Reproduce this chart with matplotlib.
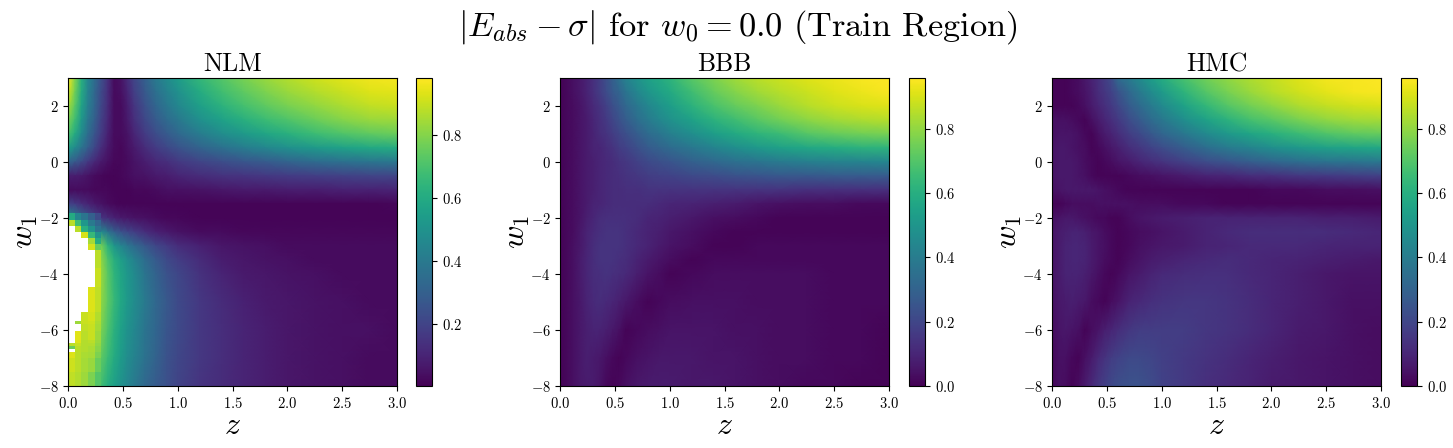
import matplotlib

matplotlib.use("Agg")
import matplotlib.pyplot as plt
import numpy as np
from matplotlib.colors import Normalize

plt.rcParams["font.family"] = ["cmr10", "DejaVu Serif"]
plt.rcParams["mathtext.fontset"] = "cm"
plt.rcParams["axes.formatter.use_mathtext"] = True
plt.rcParams["axes.unicode_minus"] = True

nan = np.nan

z_vals = [0, .06, .12, .18, .24, .3, .36, .42, .48, .54, .6, .7, .8, .9, 1, 1.2, 1.4, 1.6, 1.8, 2, 2.25, 2.5, 2.75, 3]
w_vals = [3, 2.5, 2, 1.5, 1, .5, 0, -.5, -1, -1.5, -2, -2.5, -3, -3.5, -4, -5, -6, -7, -8]

nlm_vals = [
    [.97, .80, .62, .45, .35, .24, .14, .03, .05, .12, .20, .30, .40, .47, .54, .65, .72, .78, .83, .87, .91, .94, .96, .97],
    [.92, .77, .60, .44, .33, .22, .13, .03, .04, .10, .18, .27, .36, .43, .49, .60, .68, .74, .79, .83, .87, .90, .93, .94],
    [.85, .73, .57, .42, .32, .21, .12, .03, .03, .08, .15, .24, .32, .39, .45, .55, .63, .69, .74, .78, .82, .86, .89, .90],
    [.78, .68, .53, .39, .30, .19, .11, .03, .03, .07, .13, .21, .28, .34, .39, .49, .56, .62, .67, .71, .76, .80, .83, .84],
    [.70, .60, .47, .35, .26, .17, .09, .03, .03, .05, .10, .17, .23, .28, .33, .41, .48, .53, .58, .62, .67, .71, .74, .76],
    [.55, .47, .38, .29, .21, .13, .07, .03, .02, .04, .07, .12, .17, .21, .25, .31, .36, .41, .45, .49, .53, .56, .59, .60],
    [.32, .27, .22, .16, .11, .07, .04, .02, .02, .03, .05, .08, .11, .13, .16, .20, .23, .26, .28, .31, .34, .36, .38, .39],
    [.08, .08, .07, .05, .03, .02, .01, .01, .02, .03, .04, .05, .07, .08, .10, .12, .14, .15, .16, .17, .18, .19, .20, .20],
    [.03, .03, .03, .03, .02, .02, .02, .01, .01, .01, .02, .02, .03, .04, .04, .05, .06, .07, .07, .08, .08, .09, .09, .10],
    [.20, .17, .13, .10, .07, .05, .03, .02, .01, .01, .01, .01, .01, .01, .01, .01, .01, .01, .01, .01, .01, .01, .01, .02],
    [.50, .42, .33, .26, .20, .15, .12, .09, .07, .06, .05, .04, .03, .02, .02, .01, .01, .01, .01, .01, .01, .01, .01, .01],
    [nan, nan, .90, .75, .60, .47, .38, .30, .25, .21, .18, .13, .09, .07, .05, .03, .03, .02, .02, .02, .02, .02, .02, .02],
    [nan, nan, nan, nan, .92, .78, .64, .52, .45, .39, .34, .27, .21, .17, .13, .09, .06, .05, .04, .03, .03, .03, .03, .03],
    [nan, nan, nan, nan, .93, .82, .71, .62, .55, .49, .44, .35, .28, .22, .18, .12, .08, .06, .05, .04, .03, .03, .03, .03],
    [nan, nan, nan, nan, .93, .83, .73, .64, .58, .52, .47, .38, .31, .25, .21, .14, .10, .07, .06, .05, .04, .03, .03, .03],
    [nan, nan, nan, .93, .91, .82, .74, .66, .59, .53, .48, .40, .33, .27, .22, .16, .12, .09, .07, .06, .05, .04, .03, .03],
    [nan, nan, .92, .90, .88, .79, .71, .63, .56, .50, .46, .38, .32, .26, .22, .16, .13, .10, .08, .06, .05, .04, .04, .03],
    [.92, .91, .90, .86, .80, .74, .67, .60, .54, .48, .44, .37, .31, .25, .21, .16, .13, .10, .08, .06, .05, .04, .03, .03],
    [.88, .86, .83, .78, .74, .68, .61, .55, .50, .45, .40, .33, .28, .24, .20, .15, .12, .10, .08, .06, .05, .04, .03, .03],
]

bbb_vals = [
    [.01, .02, .04, .06, .09, .13, .17, .23, .29, .36, .42, .49, .55, .58, .62, .71, .77, .82, .86, .88, .91, .93, .95, .96],
    [.01, .02, .04, .06, .09, .13, .17, .22, .27, .31, .37, .44, .50, .54, .58, .66, .73, .78, .82, .85, .88, .91, .93, .95],
    [.01, .02, .03, .05, .08, .11, .14, .18, .23, .27, .32, .38, .44, .49, .53, .61, .68, .73, .77, .81, .85, .88, .90, .91],
    [.01, .02, .03, .05, .07, .10, .13, .16, .20, .24, .28, .34, .39, .44, .48, .55, .61, .66, .71, .75, .79, .82, .84, .85],
    [.01, .02, .03, .05, .07, .09, .12, .14, .17, .20, .23, .28, .33, .37, .41, .47, .53, .58, .62, .65, .70, .73, .75, .76],
    [.01, .02, .03, .05, .07, .09, .10, .12, .14, .17, .19, .23, .27, .30, .33, .38, .43, .47, .51, .54, .57, .59, .61, .62],
    [.01, .02, .03, .05, .07, .08, .10, .11, .12, .14, .15, .18, .21, .23, .25, .29, .32, .35, .37, .39, .41, .42, .43, .44],
    [.01, .02, .03, .05, .07, .08, .10, .11, .12, .13, .14, .15, .17, .18, .19, .21, .22, .24, .25, .26, .26, .27, .27, .27],
    [.01, .02, .03, .05, .07, .08, .10, .11, .12, .12, .13, .13, .14, .14, .14, .14, .14, .14, .14, .14, .13, .13, .13, .13],
    [.01, .02, .03, .05, .07, .09, .10, .11, .12, .12, .12, .12, .12, .11, .10, .09, .08, .07, .05, .04, .03, .03, .02, .02],
    [.01, .02, .03, .05, .08, .10, .12, .13, .13, .13, .13, .12, .10, .09, .08, .06, .04, .03, .02, .01, .01, .01, .01, .01],
    [.01, .02, .03, .06, .09, .11, .13, .14, .14, .14, .13, .11, .09, .08, .06, .04, .02, .01, .01, .01, .01, .01, .01, .01],
    [.01, .02, .04, .06, .09, .12, .14, .14, .14, .14, .13, .11, .09, .07, .05, .03, .01, .01, .02, .02, .02, .02, .02, .02],
    [.01, .02, .04, .07, .10, .12, .14, .14, .14, .13, .12, .09, .07, .05, .03, .01, .02, .02, .02, .02, .02, .02, .02, .02],
    [.01, .02, .04, .07, .10, .12, .13, .14, .13, .12, .11, .08, .05, .03, .01, .02, .03, .03, .03, .03, .03, .02, .02, .02],
    [.01, .02, .04, .06, .09, .11, .12, .11, .10, .08, .06, .03, .01, .02, .03, .04, .04, .04, .03, .03, .03, .02, .02, .02],
    [.01, .02, .04, .06, .08, .09, .09, .08, .06, .04, .01, .02, .03, .04, .05, .05, .05, .04, .04, .03, .03, .02, .02, .01],
    [.01, .02, .04, .06, .08, .07, .06, .04, .02, .01, .02, .04, .05, .06, .06, .06, .05, .05, .04, .03, .03, .02, .02, .01],
    [.01, .02, .04, .06, .07, .07, .05, .02, .01, .02, .04, .06, .07, .07, .07, .06, .06, .05, .04, .03, .02, .02, .01, .01],
]

hmc_vals = [
    [.01, .01, .01, .02, .03, .06, .09, .13, .17, .22, .33, .39, .46, .53, .59, .68, .75, .80, .84, .87, .91, .94, .95, .96],
    [.01, .01, .01, .02, .03, .05, .08, .12, .15, .19, .24, .32, .39, .46, .52, .62, .70, .76, .81, .85, .89, .92, .94, .95],
    [.01, .01, .01, .01, .02, .04, .07, .10, .13, .16, .20, .27, .33, .39, .45, .55, .63, .70, .75, .79, .84, .87, .89, .90],
    [.04, .04, .04, .03, .02, .01, .04, .07, .10, .13, .16, .22, .27, .33, .38, .47, .55, .61, .67, .71, .76, .80, .82, .83],
    [.04, .05, .05, .05, .04, .02, .01, .04, .07, .09, .12, .17, .21, .26, .31, .38, .45, .51, .56, .60, .65, .69, .72, .73],
    [.05, .06, .06, .05, .04, .03, .01, .02, .04, .06, .08, .12, .15, .19, .22, .28, .34, .39, .43, .47, .51, .54, .56, .57],
    [.05, .06, .06, .06, .05, .03, .02, .01, .02, .03, .05, .07, .10, .12, .14, .18, .22, .25, .28, .31, .34, .36, .37, .38],
    [.05, .06, .06, .06, .05, .04, .02, .01, .01, .01, .01, .02, .03, .04, .05, .07, .09, .10, .12, .13, .15, .16, .17, .18],
    [.04, .05, .06, .06, .06, .06, .06, .05, .04, .03, .02, .01, .01, .01, .01, .01, .01, .01, .01, .02, .02, .03, .03, .04],
    [.01, .01, .02, .03, .03, .03, .03, .04, .04, .04, .04, .04, .03, .03, .03, .02, .02, .01, .01, .01, .01, .01, .01, .01],
    [.04, .05, .06, .06, .05, .04, .03, .02, .02, .01, .01, .03, .05, .06, .07, .08, .09, .09, .09, .09, .09, .08, .08, .07],
    [.05, .07, .08, .09, .09, .08, .06, .05, .03, .02, .01, .02, .03, .04, .05, .07, .09, .11, .12, .12, .12, .12, .11, .10],
    [.05, .07, .09, .10, .10, .09, .07, .05, .04, .02, .01, .02, .04, .05, .06, .07, .09, .10, .11, .11, .11, .10, .09, .09],
    [.05, .07, .09, .10, .10, .09, .07, .05, .03, .02, .01, .03, .05, .07, .08, .10, .11, .12, .11, .10, .09, .08, .07, .06],
    [.05, .07, .09, .09, .09, .08, .06, .04, .02, .01, .02, .05, .07, .09, .11, .12, .13, .13, .11, .10, .08, .06, .05, .05],
    [.04, .06, .07, .08, .07, .06, .03, .02, .01, .03, .05, .09, .11, .13, .14, .15, .15, .14, .12, .10, .08, .06, .04, .04],
    [.03, .05, .06, .05, .04, .01, .03, .05, .08, .10, .12, .15, .17, .17, .17, .17, .15, .14, .12, .10, .07, .06, .04, .03],
    [.02, .04, .04, .02, .01, .04, .07, .11, .14, .17, .19, .21, .21, .20, .18, .16, .14, .12, .10, .08, .06, .05, .04, .03],
    [.02, .04, .03, .01, .03, .07, .11, .15, .18, .21, .23, .24, .24, .22, .19, .16, .13, .11, .09, .07, .06, .05, .04, .03],
]

# left edge of NLM, the columns next to the blown up region, cell by cell
edge_z = [0, .06, .12, .18, .24, .3]
edge_w = [-1.83, -2.07, -2.29, -2.5, -2.71, -2.93, -3.14, -3.8, -4.48, -5.36, -5.68, -5.79, -6.02, -6.36, -6.45, -6.56, -6.68, -6.79, -7.0, -7.5, -8]
edge_vals = [
    [.60, .45, .38, .30, .22],
    [.88, .68, .52, .40, .32],
    [nan, .88, .62, .50, .38],
    [nan, nan, .92, .66, .50],
    [nan, nan, nan, .85, .60],
    [nan, nan, nan, .92, .76],
    [nan, nan, nan, nan, .88],
    [nan, nan, nan, nan, .90],
    [nan, nan, nan, .93, .89],
    [nan, nan, .90, .92, .87],
    [nan, .84, .90, .91, .86],
    [nan, nan, .89, .90, .85],
    [nan, .94, .88, .90, .84],
    [nan, .93, .87, .88, .83],
    [.88, .90, .87, .87, .82],
    [.76, .88, .87, .86, .81],
    [nan, .88, .87, .86, .81],
    [.93, .88, .86, .85, .79],
    [.91, .88, .85, .83, .76],
    [.89, .87, .84, .79, .72],
]

panels = [
    ("NLM", nlm_vals, 0.001, 0.983, [68.3, 416.3], [.2, .4, .6, .8]),
    ("BBB", bbb_vals, 0.0, 0.958, [560.3, 909.3], [0, .2, .4, .6, .8]),
    ("HMC", hmc_vals, 0.0, 0.958, [1052.3, 1401.3], [0, .2, .4, .6, .8]),
]

W, H = 1453, 448
fig = plt.figure(figsize=(W / 100, H / 100), dpi=100)

cmap = plt.get_cmap("viridis").copy()
cmap.set_bad("white")

for name, vals, vmin, vmax, (ax_x, cax_x), cticks in panels:
    ax = fig.add_axes([ax_x / W, (H - 386) / H, 328.5 / W, 308 / H])
    cax = fig.add_axes([cax_x / W, (H - 386) / H, 15.7 / W, 308 / H])
    norm = Normalize(vmin, vmax)
    mesh = ax.pcolormesh(z_vals, w_vals, np.array(vals), cmap=cmap, norm=norm, shading="gouraud")
    if name == "NLM":
        ax.pcolormesh(edge_z, edge_w, np.array(edge_vals), cmap=cmap, norm=norm, shading="flat")
    ax.set_xlim(0, 3)
    ax.set_ylim(-8, 3)
    ax.set_xticks([0, .5, 1, 1.5, 2, 2.5, 3])
    ax.set_yticks([-8, -6, -4, -2, 0, 2])
    ax.tick_params(labelsize=10.5)
    ax.set_title(name, fontsize=18.5, pad=5)
    ax.set_xlabel(r"$z$", fontsize=23, labelpad=1)
    ax.set_ylabel(r"$w_1$", fontsize=23, labelpad=-1)
    cbar = fig.colorbar(mesh, cax=cax, ticks=cticks)
    cbar.ax.tick_params(labelsize=10.5)

fig.text(738 / W, 1 - 27 / H, r"$|E_{abs} - \sigma|$ for $w_0 = 0.0$ (Train Region)",
         fontsize=24.7, ha="center", va="center")

fig.savefig("out.png", dpi=100)
